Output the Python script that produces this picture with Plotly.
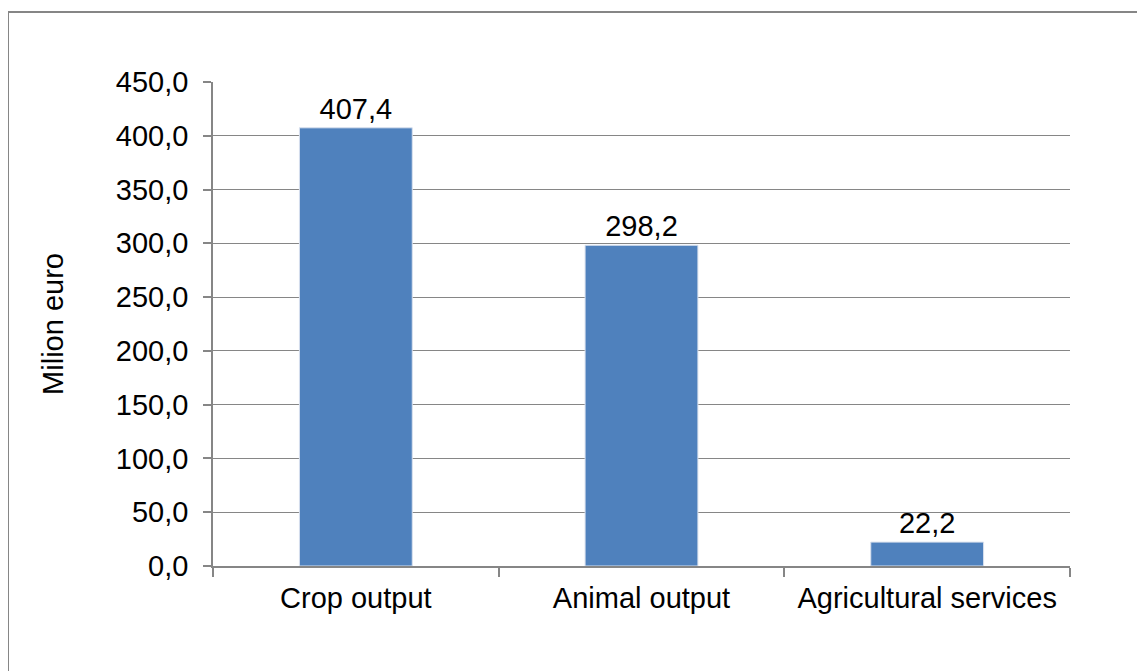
import plotly.graph_objects as go

categories = ["Crop output", "Animal output", "Agricultural services"]
values = [407.4, 298.2, 22.2]

GREY = "#868686"
FONT = "Liberation Sans, Arial, sans-serif"
FS = 29

fig = go.Figure()
fig.add_trace(go.Bar(
    x=categories, y=values,
    marker=dict(color="#4F81BD", line=dict(color="#D9E1EE", width=1)),
    width=0.395,
    texttemplate="%{y:.1f}", textposition="outside",
    textfont=dict(size=FS, color="black", family=FONT),
    cliponaxis=False,
))

# page body has an 8px margin, so offsets are shifted by 8
fig.update_layout(
    width=1145, height=671,
    margin=dict(l=205, r=83, t=74, b=113),
    paper_bgcolor="white", plot_bgcolor="white",
    separators=",.",
    showlegend=False,
    font=dict(family=FONT, size=FS, color="black"),
    shapes=[dict(type="rect", xref="paper", yref="paper",
                 x0=-205 / 857, x1=1.2, y0=-0.5, y1=1 + 70 / 484,
                 line=dict(color=GREY, width=2), layer="below")],
)
fig.update_xaxes(
    showline=True, linecolor=GREY, linewidth=1.5,
    ticks="outside", tickson="boundaries", ticklen=9, tickcolor=GREY, tickwidth=1.5,
    tickfont=dict(size=FS), showgrid=False, ticklabelstandoff=5,
)
fig.update_yaxes(
    range=[0, 450], dtick=50, tickformat=".1f",
    showline=True, linecolor=GREY, linewidth=1.5,
    ticks="outside", ticklen=8, tickcolor=GREY, tickwidth=1.5,
    showgrid=True, gridcolor=GREY, gridwidth=1,
    tickfont=dict(size=FS), ticklabelstandoff=9,
    title=dict(text="Milion euro", font=dict(size=FS), standoff=44),
    zeroline=False,
)

fig.write_html("out.html")
